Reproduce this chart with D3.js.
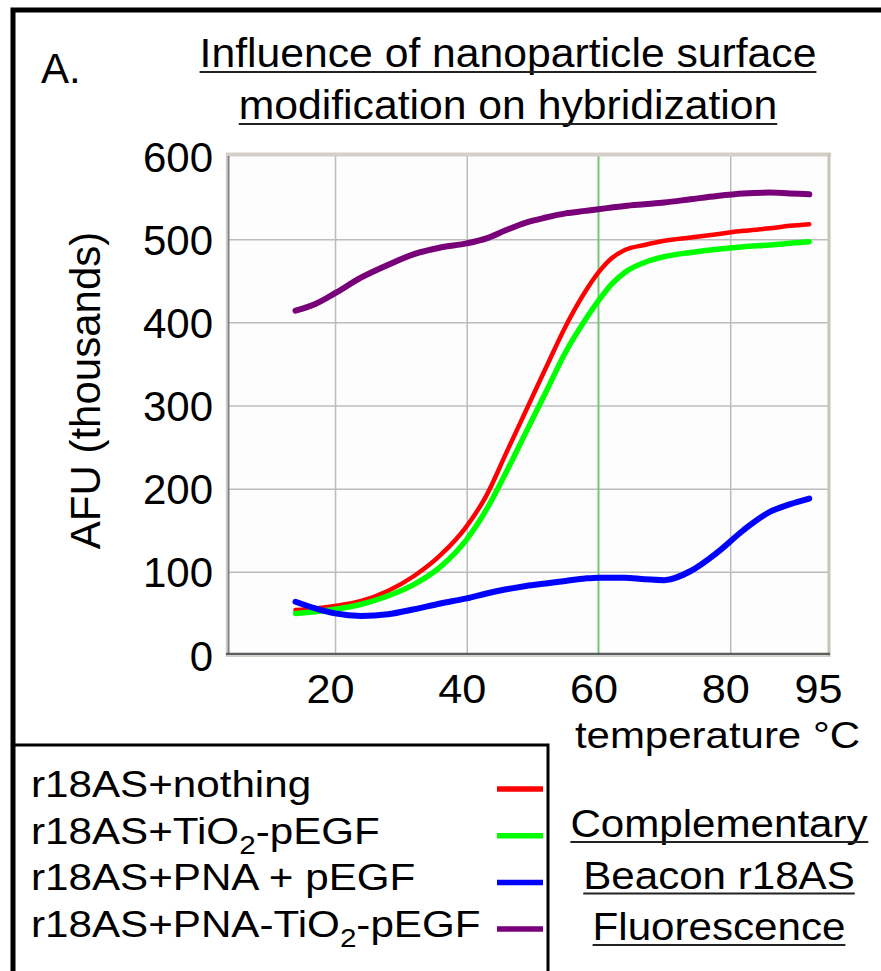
<!DOCTYPE html>
<html>
<head>
<meta charset="utf-8">
<script src="https://cdn.jsdelivr.net/npm/d3@7"></script>
<style>
  html, body { margin: 0; padding: 0; background: #fff; }
  svg { display: block; }
  text { font-family: "Liberation Sans", Arial, sans-serif; fill: #000; }
</style>
</head>
<body>
<svg id="chart" width="881" height="971"></svg>
<script>
// temperature (°C) sample points, shared by all four curves
const temps = [14, 17, 20, 24, 28, 32, 36, 40, 43, 46, 49, 52, 55, 58, 60, 62, 64, 67, 70, 74, 78, 82, 86, 89, 92];

// AFU (thousands)
const nothing = [54, 56, 59, 65, 77, 95, 120, 155, 192, 243, 294, 345, 395, 437, 460, 477, 487, 493, 498, 502, 506, 510, 513, 516, 518];
const tio2Pegf = [50, 52, 55, 61, 71, 85, 106, 139, 175, 220, 268, 316, 364, 403, 426, 446, 460, 472, 479, 484, 488, 491, 493, 495, 497];
const pnaPegf = [64, 56, 50, 47, 49, 55, 62, 68, 74, 79, 83, 86, 89, 92, 93, 93, 93, 91, 90, 101, 123, 150, 172, 181, 188];
const pnaTio2Pegf = [414, 422, 435, 454, 469, 482, 490, 495, 501, 511, 520, 526, 531, 534, 536, 538, 540, 542, 544, 548, 552, 555, 556, 555, 554];

const seriesColors = ["#ff0000", "#00ff00", "#0000ff", "#780078"];
// legend labels: even parts normal, odd parts subscript
const legendLabels = [
    ["r18AS+nothing"],
    ["r18AS+TiO", "2", "-pEGF"],
    ["r18AS+PNA + pEGF"],
    ["r18AS+PNA-TiO", "2", "-pEGF"]
];

const yTicks = [0, 100, 200, 300, 400, 500, 600];
const xTicks = [20, 40, 60, 80, 95];
const titleLines = ["Influence of nanoparticle surface", "modification on hybridization"];
const sideLines = ["Complementary", "Beacon r18AS", "Fluorescence"];

const svg = d3.select("#chart");

const x = d3.scaleLinear().domain([3.75, 95]).range([228, 829]);
const y = d3.scaleLinear().domain([0, 600]).range([655, 156]);

// text helper, with a horizontal stretch like the original figure
function label(g, px, py, str, size, sx, anchor) {
    const t = g.append("text")
        .attr("transform", `translate(${px},${py}) scale(${sx},1)`)
        .attr("text-anchor", anchor || "start")
        .style("font-size", size + "px")
        .text(str);
    t.datum({px, sx});
    return t;
}
function underline(g, t, py) {
    const box = t.node().getBBox();
    const {px, sx} = t.datum();
    g.append("line")
        .attr("x1", px + box.x * sx).attr("x2", px + (box.x + box.width) * sx)
        .attr("y1", py).attr("y2", py)
        .attr("stroke", "#222").attr("stroke-width", 2);
}

// outer frame
svg.append("path")
    .attr("d", "M13,971 V10 H881")
    .attr("fill", "none").attr("stroke", "#000").attr("stroke-width", 5);

// title + panel letter
label(svg, 41, 83, "A.", 42, 1);
titleLines.forEach((s, i) => {
    const t = label(svg, 508, 67 + i * 52, s, 40, 1.067, "middle");
    underline(svg, t, 72 + i * 52);
});

// plot background
const [x0, x1] = x.range();
const [yb, yt] = y.range();
svg.append("rect")
    .attr("x", x0).attr("y", yt).attr("width", x1 - x0).attr("height", yb - yt)
    .attr("fill", "#fdfdfd");

// grid
svg.append("g")
    .attr("transform", `translate(${x0},0)`)
    .call(d3.axisLeft(y).tickValues(yTicks.slice(1, -1)).tickSize(-(x1 - x0)).tickFormat(""))
    .call(g => g.select(".domain").remove())
    .selectAll("line").attr("stroke", "#bcbcbc").attr("stroke-width", 1.5);

svg.append("g")
    .attr("transform", `translate(0,${yb})`)
    .call(d3.axisBottom(x).tickValues([20, 40, 80]).tickSize(-(yb - yt)).tickFormat(""))
    .call(g => g.select(".domain").remove())
    .selectAll("line").attr("stroke", "#bcbcbc").attr("stroke-width", 1.5);

// highlighted 60 °C line
svg.append("line")
    .attr("x1", x(60)).attr("x2", x(60)).attr("y1", yt).attr("y2", yb)
    .attr("stroke", "#74c874").attr("stroke-width", 2);

// plot frame
svg.append("line").attr("x1", x0 - 2).attr("x2", x1 + 2).attr("y1", yt - 1.5).attr("y2", yt - 1.5)
    .attr("stroke", "#d4d0c8").attr("stroke-width", 4);
svg.append("line").attr("x1", x1).attr("x2", x1).attr("y1", yt - 3).attr("y2", yb + 2)
    .attr("stroke", "#c8c4bc").attr("stroke-width", 3);
svg.append("line").attr("x1", x0 - 1.5).attr("x2", x0 - 1.5).attr("y1", yt - 3).attr("y2", yb + 2)
    .attr("stroke", "#d4d0c8").attr("stroke-width", 1.5);
svg.append("line").attr("x1", x0 + 0.5).attr("x2", x0 + 0.5).attr("y1", yt).attr("y2", yb)
    .attr("stroke", "#808080").attr("stroke-width", 2);
svg.append("line").attr("x1", x0 - 2).attr("x2", x1 + 1).attr("y1", yb - 1).attr("y2", yb - 1)
    .attr("stroke", "#5c5c5c").attr("stroke-width", 2.5);
svg.append("line").attr("x1", x0 - 2).attr("x2", x1 + 1).attr("y1", yb + 1.2).attr("y2", yb + 1.2)
    .attr("stroke", "#d4d0c8").attr("stroke-width", 1.5);

// curves
const series = [nothing, tio2Pegf, pnaPegf, pnaTio2Pegf];
const widths = [4.5, 5.5, 6, 6];
const line = d3.line()
    .x((d, i) => x(temps[i]))
    .y(d => y(d))
    .curve(d3.curveMonotoneX);

svg.append("g").selectAll("path")
    .data(series)
    .enter().append("path")
    .attr("d", d => line(d))
    .attr("fill", "none")
    .attr("stroke", (d, i) => seriesColors[i])
    .attr("stroke-width", (d, i) => widths[i])
    .attr("stroke-linecap", "round")
    .attr("stroke-linejoin", "round");

// axes labels
const yAx = svg.append("g")
    .attr("transform", `translate(${x0},0)`)
    .call(d3.axisLeft(y).tickValues(yTicks).tickSize(0).tickPadding(0));
yAx.select(".domain").remove();
yAx.selectAll("text")
    .attr("x", null).attr("dy", null)
    .attr("transform", "translate(-15,15)")
    .attr("text-anchor", "end")
    .style("font-family", '"Liberation Sans", Arial, sans-serif')
    .style("font-size", "42px");

const xAx = svg.append("g")
    .attr("transform", `translate(0,${yb})`)
    .call(d3.axisBottom(x).tickValues(xTicks).tickSize(0).tickPadding(0));
xAx.select(".domain").remove();
xAx.selectAll("text")
    .attr("y", null).attr("dy", null)
    .attr("transform", d => `translate(${Math.min(-5, x1 - 11 - x(d))},48) scale(1.08,1)`)
    .attr("text-anchor", "middle")
    .style("font-family", '"Liberation Sans", Arial, sans-serif')
    .style("font-size", "40px");

svg.append("text")
    .attr("transform", `translate(100,${(yt + yb) / 2 - 15}) rotate(-90)`)
    .attr("text-anchor", "middle")
    .style("font-size", "42px")
    .text("AFU (thousands)");

label(svg, 860, 748, "temperature °C", 37, 1.135, "end");

// legend box
svg.append("path")
    .attr("d", "M13,745 H548 V971")
    .attr("fill", "none").attr("stroke", "#000").attr("stroke-width", 3);

const legend = svg.append("g");
legendLabels.forEach((parts, i) => {
    const by = 797 + i * 46.7;
    const t = legend.append("text")
        .attr("transform", `translate(31,${by}) scale(1.14,1)`)
        .style("font-size", "37px");
    parts.forEach((p, j) => {
        const sub = j % 2 === 1;
        t.append("tspan")
            .attr("dy", sub ? 10 : (j > 0 ? -10 : 0))
            .style("font-size", sub ? "26px" : "37px")
            .text(p);
    });
    legend.append("line")
        .attr("x1", 497).attr("x2", 543)
        .attr("y1", by - 8).attr("y2", by - 8)
        .attr("stroke", seriesColors[i]).attr("stroke-width", 5.5);
});

// side caption
sideLines.forEach((s, i) => {
    const t = label(svg, 719, 837 + i * 51.5, s, 39, 1.08, "middle");
    underline(svg, t, 842 + i * 51.5);
});
</script>
</body>
</html>
